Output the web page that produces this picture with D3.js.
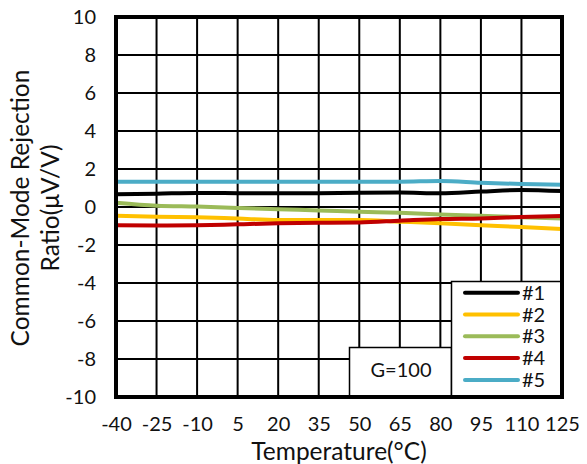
<!DOCTYPE html>
<html><head><meta charset="utf-8">
<script src="https://cdn.jsdelivr.net/npm/d3@7"></script>
<style>body{margin:0;background:#fff}svg{display:block}text{font-family:Lato,"Open Sans",sans-serif;fill:#111}</style>
</head><body>
<svg id="c" width="587" height="464"></svg>
<script>
const temps = [-40,-25,-10,5,20,35,50,65,80,95,110,125];
const s1 = [0.67,0.70,0.74,0.73,0.72,0.73,0.75,0.76,0.72,0.81,0.90,0.84];
const s2 = [-0.46,-0.51,-0.54,-0.61,-0.68,-0.68,-0.68,-0.77,-0.86,-0.96,-1.05,-1.16];
const s3 = [0.23,0.07,0.02,-0.05,-0.12,-0.18,-0.25,-0.30,-0.39,-0.46,-0.54,-0.60];
const s4 = [-0.96,-0.98,-0.96,-0.91,-0.86,-0.83,-0.81,-0.72,-0.63,-0.60,-0.53,-0.47];
const s5 = [1.33,1.33,1.33,1.33,1.33,1.33,1.33,1.33,1.37,1.28,1.21,1.17];
const seriesNames = ["#1","#2","#3","#4","#5"];
const seriesColors = ["#000000","#ffc000","#9bbb59","#c00000","#4bacc6"];
const yTicks = [-10,-8,-6,-4,-2,0,2,4,6,8,10];
const series = [s1,s2,s3,s4,s5];

const svg = d3.select("#c");
const L=116,R=562,T=17,B=397;
const x = d3.scalePoint().domain(temps).range([L,R]);
const y = d3.scaleLinear().domain([-10,10]).range([B,T]);

// grid
svg.append("g").selectAll("line").data(temps).join("line")
  .attr("x1",d=>x(d)).attr("x2",d=>x(d)).attr("y1",T).attr("y2",B)
  .attr("stroke","#000").attr("stroke-width",2);
svg.append("g").selectAll("line").data(yTicks).join("line")
  .attr("x1",L).attr("x2",R).attr("y1",d=>y(d)).attr("y2",d=>y(d))
  .attr("stroke","#000").attr("stroke-width",2);

// lines
const line = d3.line().x((d,i)=>x(temps[i])).y(d=>y(d)).curve(d3.curveMonotoneX);
series.forEach((s,i)=>{
  svg.append("path").datum(s).attr("d",line).attr("fill","none")
    .attr("stroke",seriesColors[i]).attr("stroke-width",4);
});

// G=100 box
svg.append("rect").attr("x",349.5).attr("y",347.5).attr("width",102).attr("height",B-347.5)
  .attr("fill","#fff").attr("stroke","#000").attr("stroke-width",1.5);
svg.append("text").attr("x",401).attr("y",377).attr("text-anchor","middle")
  .attr("font-size",20).text("G=100");

// legend
svg.append("rect").attr("x",451.5).attr("y",281.5).attr("width",R-451.5).attr("height",B-281.5)
  .attr("fill","#fff").attr("stroke","#000").attr("stroke-width",1.5);
seriesNames.forEach((n,i)=>{
  const yy = 292.7 + i*21.8;
  svg.append("line").attr("x1",465).attr("x2",518).attr("y1",yy).attr("y2",yy)
    .attr("stroke",seriesColors[i]).attr("stroke-width",4).attr("stroke-linecap","round");
  svg.append("text").attr("x",522).attr("y",yy+7).attr("font-size",20).text(n);
});

// frame
svg.append("rect").attr("x",L).attr("y",T).attr("width",R-L).attr("height",B-T)
  .attr("fill","none").attr("stroke","#000").attr("stroke-width",4);

// axes
const fmt = d => String(d);
const ya = svg.append("g").attr("transform",`translate(${L},0)`)
  .call(d3.axisLeft(y).tickValues(yTicks).tickSize(0).tickPadding(20).tickFormat(fmt));
ya.select(".domain").remove();
ya.selectAll("text").attr("font-size",20).style("font-family","Lato").attr("fill","#111");
const xa = svg.append("g").attr("transform",`translate(0,${B})`)
  .call(d3.axisBottom(x).tickSize(0).tickPadding(20).tickFormat(fmt));
xa.select(".domain").remove();
xa.selectAll("text").attr("font-size",20).style("font-family","Lato").attr("fill","#111");

svg.append("text").attr("x",(L+R)/2).attr("y",460).attr("text-anchor","middle")
  .attr("font-size",24.5).text("Temperature(°C)");
const yt = svg.append("text").attr("transform",`translate(29,208) rotate(-90)`)
  .attr("text-anchor","middle").attr("font-size",24.5);
yt.append("tspan").attr("x",0).attr("dy",0).text("Common-Mode Rejection");
yt.append("tspan").attr("x",0).attr("dy",30).text("Ratio(μV/V)");
</script>
</body></html>
